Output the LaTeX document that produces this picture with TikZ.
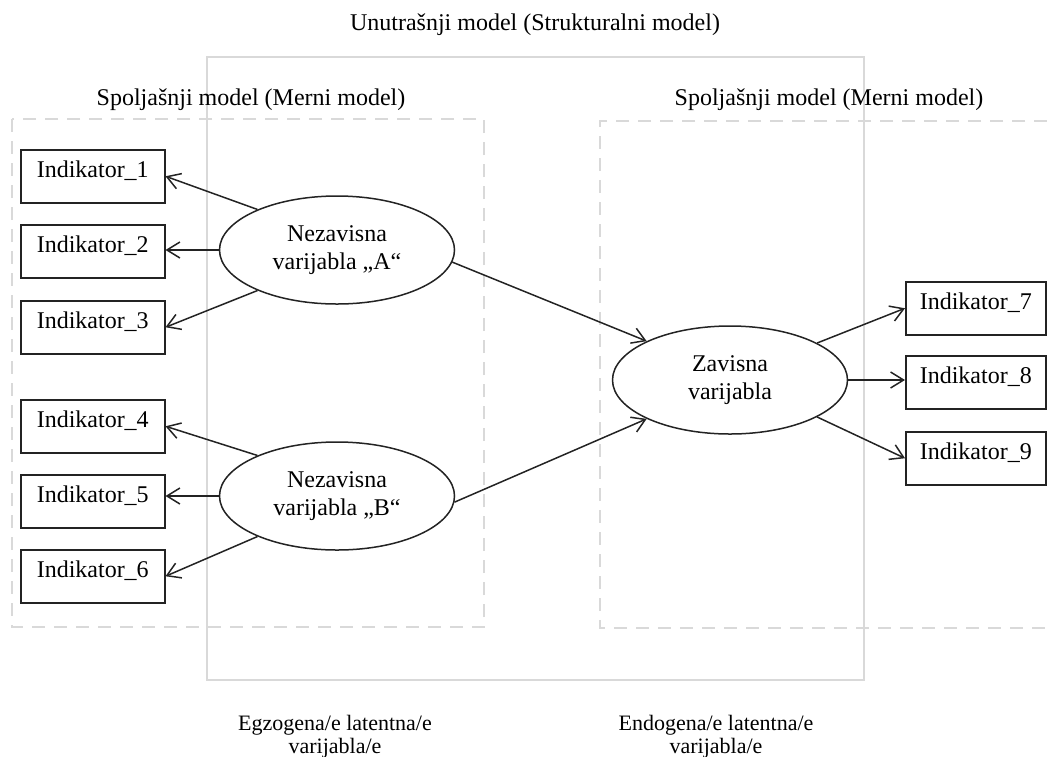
\documentclass[tikz,border=0pt]{standalone}
\usepackage{fontspec}
\setmainfont{Liberation Serif}
\usetikzlibrary{shapes.geometric,arrows.meta}

\definecolor{frame}{RGB}{217,217,217}
\definecolor{ink}{RGB}{35,35,35}

\tikzset{
  every node/.style={font=\fontsize{24}{28}\selectfont},
  indbox/.style={draw=ink, line width=1.5pt, rectangle, fill=white,
    inner xsep=0pt, inner ysep=0pt, text height=28pt, text depth=25pt},
  leftind/.style={indbox, minimum width=144pt},
  rightind/.style={indbox, minimum width=140pt},
  latent/.style={draw=ink, line width=1.5pt, ellipse, fill=white, inner sep=0pt,
    minimum width=235pt, minimum height=108pt, align=center},
  link/.style={draw=ink, line width=1.5pt, -{Straight Barb[length=13pt,width=16pt]}},
  solidframe/.style={draw=frame, line width=2.5pt},
  dashframe/.style={draw=frame, line width=2.5pt, dash pattern=on 13pt off 9pt},
  caption/.style={anchor=base, align=center},
  lowcap/.style={anchor=base, font=\fontsize{22}{24}\selectfont}
}

\begin{document}
\begin{tikzpicture}[x=1pt, y=-1pt]
\useasboundingbox (0,0) rectangle (1047,756);

% inner (structural) model frame and the two measurement model frames
\draw[solidframe] (207,57) rectangle (864,680);
\draw[dashframe] (12,119) rectangle (484,627);
\draw[dashframe] (1047,121) -- (600,121) -- (600,628) -- (1047,628);

% frame captions
\node[caption] (tInner) at (535,30) {Unutrašnji model (Strukturalni model)};
\node[caption] (tOuterL) at (251,105) {Spoljašnji model (Merni model)};
\node[caption] (tOuterR) at (829,105) {Spoljašnji model (Merni model)};
\node[lowcap] (tExo1) at (335,730) {Egzogena/e latentna/e};
\node[lowcap] (tExo2) at (335,753) {varijabla/e};
\node[lowcap] (tEndo1) at (716,730) {Endogena/e latentna/e};
\node[lowcap] (tEndo2) at (716,753) {varijabla/e};

% indicators
\node[leftind, anchor=north west] (i1) at (20,149) {Indikator\_1};
\node[leftind, anchor=north west] (i2) at (20,224) {Indikator\_2};
\node[leftind, anchor=north west] (i3) at (20,300) {Indikator\_3};
\node[leftind, anchor=north west] (i4) at (20,399) {Indikator\_4};
\node[leftind, anchor=north west] (i5) at (20,474) {Indikator\_5};
\node[leftind, anchor=north west] (i6) at (20,549) {Indikator\_6};
\node[rightind, anchor=north west] (i7) at (905,281) {Indikator\_7};
\node[rightind, anchor=north west] (i8) at (905,355) {Indikator\_8};
\node[rightind, anchor=north west] (i9) at (905,431) {Indikator\_9};

% latent variables
\node[latent] (A) at (337,250) {Nezavisna\\varijabla „A“};
\node[latent] (B) at (337,496) {Nezavisna\\varijabla „B“};
\node[latent] (Z) at (730,380) {Zavisna\\varijabla};

% measurement paths
\draw[link] (A.153) -- (i1.east);
\draw[link] (A.west) -- (A.west -| i2.east);
\draw[link] (A.207) -- (i3.east);
\draw[link] (B.153) -- (i4.east);
\draw[link] (B.west) -- (B.west -| i5.east);
\draw[link] (B.207) -- (i6.east);
\draw[link] (Z.23) -- (i7.west);
\draw[link] (Z.east) -- (Z.east -| i8.west);
\draw[link] (Z.-23) -- (i9.west);

% structural paths
\draw[link] (A.-6) -- (Z.155);
\draw[link] (B.-3) -- (Z.205);
\end{tikzpicture}
\end{document}
